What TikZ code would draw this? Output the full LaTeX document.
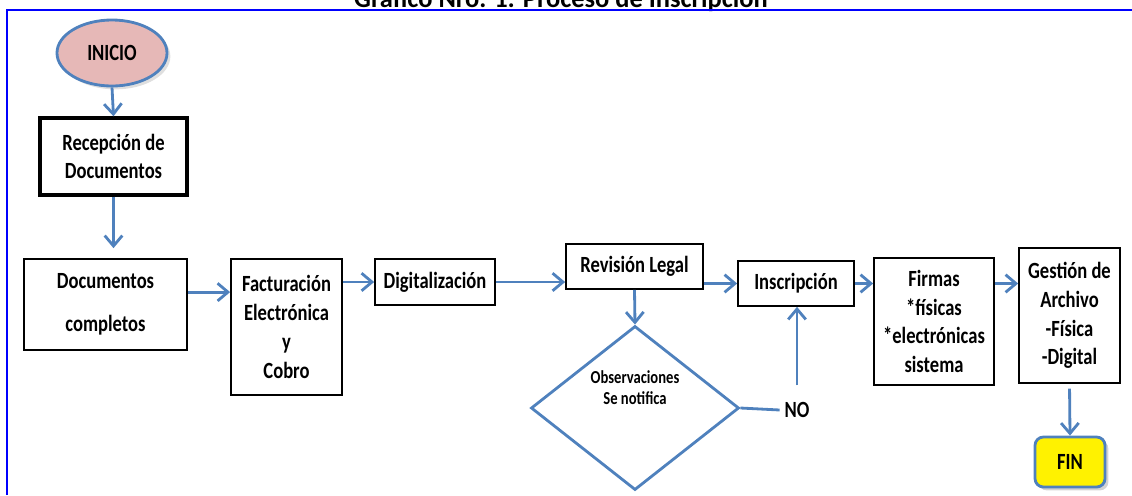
\documentclass[tikz,border=0pt]{standalone}
\usepackage{tikz, amsmath}
\usetikzlibrary{shapes, arrows.meta, positioning, calc, shadows}
\usepackage{fontspec}
\setmainfont{Carlito}[FakeStretch=0.8]
\newfontfamily\titulofont{Carlito}
\definecolor{azulflecha}{RGB}{79,129,189}
\definecolor{rosa}{RGB}{230,184,183}
\begin{document}
\begin{tikzpicture}[x=0.025cm, y=-0.025cm,
        caja/.style={rectangle, draw, line width=1.2pt, align=center, inner sep=0pt,
            font=\fontsize{16.5}{20.5}\selectfont\bfseries},
        flecha/.style={draw=azulflecha, line width=2pt, -{Straight Barb[length=2.6mm,width=4.4mm]}},
        linea/.style={draw=azulflecha, line width=2pt}]
        \useasboundingbox (0,0) rectangle (1132,495);
        % marco y titulo
        \node[anchor=base, font=\titulofont\fontsize{18.8}{20}\selectfont\bfseries] (titulo) at (561,7) {Gráfico Nro. 1: Proceso de Inscripción};
        \draw[blue, line width=1.6pt] (7,495) -- (7,10) -- (1132,10);

        \node[ellipse, draw=azulflecha, line width=2pt, fill=rosa, minimum width=2.75cm, minimum height=1.65cm,
            font=\fontsize{16.5}{18}\selectfont\bfseries, drop shadow={opacity=0.25}] (inicio) at (112,53) {INICIO};
        \node[caja, line width=2.4pt, minimum width=3.675cm, minimum height=1.925cm] (recepcion) at (113.5,156.5) {Recepción de\\Documentos};
        \node[caja, minimum width=4.075cm, minimum height=2.275cm] (documentos) at (105.5,304.5) {Documentos\\[10pt] completos};
        \node[caja, minimum width=2.775cm, minimum height=3.4cm] (facturacion) at (286.5,327) {Facturación\\Electrónica\\y\\Cobro};
        \node[caja, minimum width=3cm, minimum height=1.15cm] (digitalizacion) at (435,282) {Digitalización};
        \node[caja, minimum width=3.425cm, minimum height=1.125cm] (revision) at (634.5,266.5) {Revisión Legal};
        \node[diamond, draw=azulflecha, line width=2pt, minimum width=5.2cm, minimum height=4.1cm, inner sep=0pt,
            align=center, font=\fontsize{13}{15}\selectfont\bfseries] (observaciones) at (635,408) {Observaciones\\Se notifica\\[14pt]};
        \node[font=\fontsize{16.5}{18}\selectfont\bfseries] (no) at (797,410) {NO};
        \node[caja, minimum width=2.9cm, minimum height=1.125cm] (inscripcion) at (796,283.5) {Inscripción};
        \node[caja, minimum width=3cm, minimum height=3.175cm] (firmas) at (934,321.5) {Firmas\\*físicas\\*electrónicas\\sistema};
        \node[caja, minimum width=2.525cm, minimum height=3.375cm] (gestion) at (1069.5,315.5) {Gestión de\\Archivo\\-Física\\-Digital};
        \node[rectangle, rounded corners=6pt, draw=azulflecha, line width=2pt, fill=yellow,
            minimum width=1.75cm, minimum height=1.25cm, font=\fontsize{16.5}{18}\selectfont\bfseries,
            drop shadow={opacity=0.35}] (fin) at (1070,462) {FIN};

        \draw[flecha] (inicio.south) -- (recepcion.north);
        \draw[flecha, shorten >=0.25cm] (recepcion.south) -- (recepcion.south |- documentos.north);
        \draw[flecha] ([yshift=0.31cm]documentos.east) -- ([yshift=0.31cm]documentos.east -| facturacion.west);
        \draw[flecha] (facturacion.east |- digitalizacion) -- (digitalizacion.west);
        \draw[flecha] (digitalizacion.east) -- (digitalizacion.east -| revision.west);
        \draw[flecha] (revision.east |- inscripcion) -- (inscripcion.west);
        \draw[flecha] (revision.south) -- (observaciones.north);
        \draw[linea] (observaciones.east) -- (no.west);
        \draw[flecha, shorten <=0.3cm] (no.north) -- (no.north |- inscripcion.south);
        \draw[flecha] (inscripcion.east) -- (inscripcion.east -| firmas.west);
        \draw[flecha] (firmas.east |- inscripcion) -- (gestion.west |- inscripcion);
        \draw[flecha, shorten <=0.12cm] (gestion.south) -- (fin.north);
    \end{tikzpicture}
\end{document}
